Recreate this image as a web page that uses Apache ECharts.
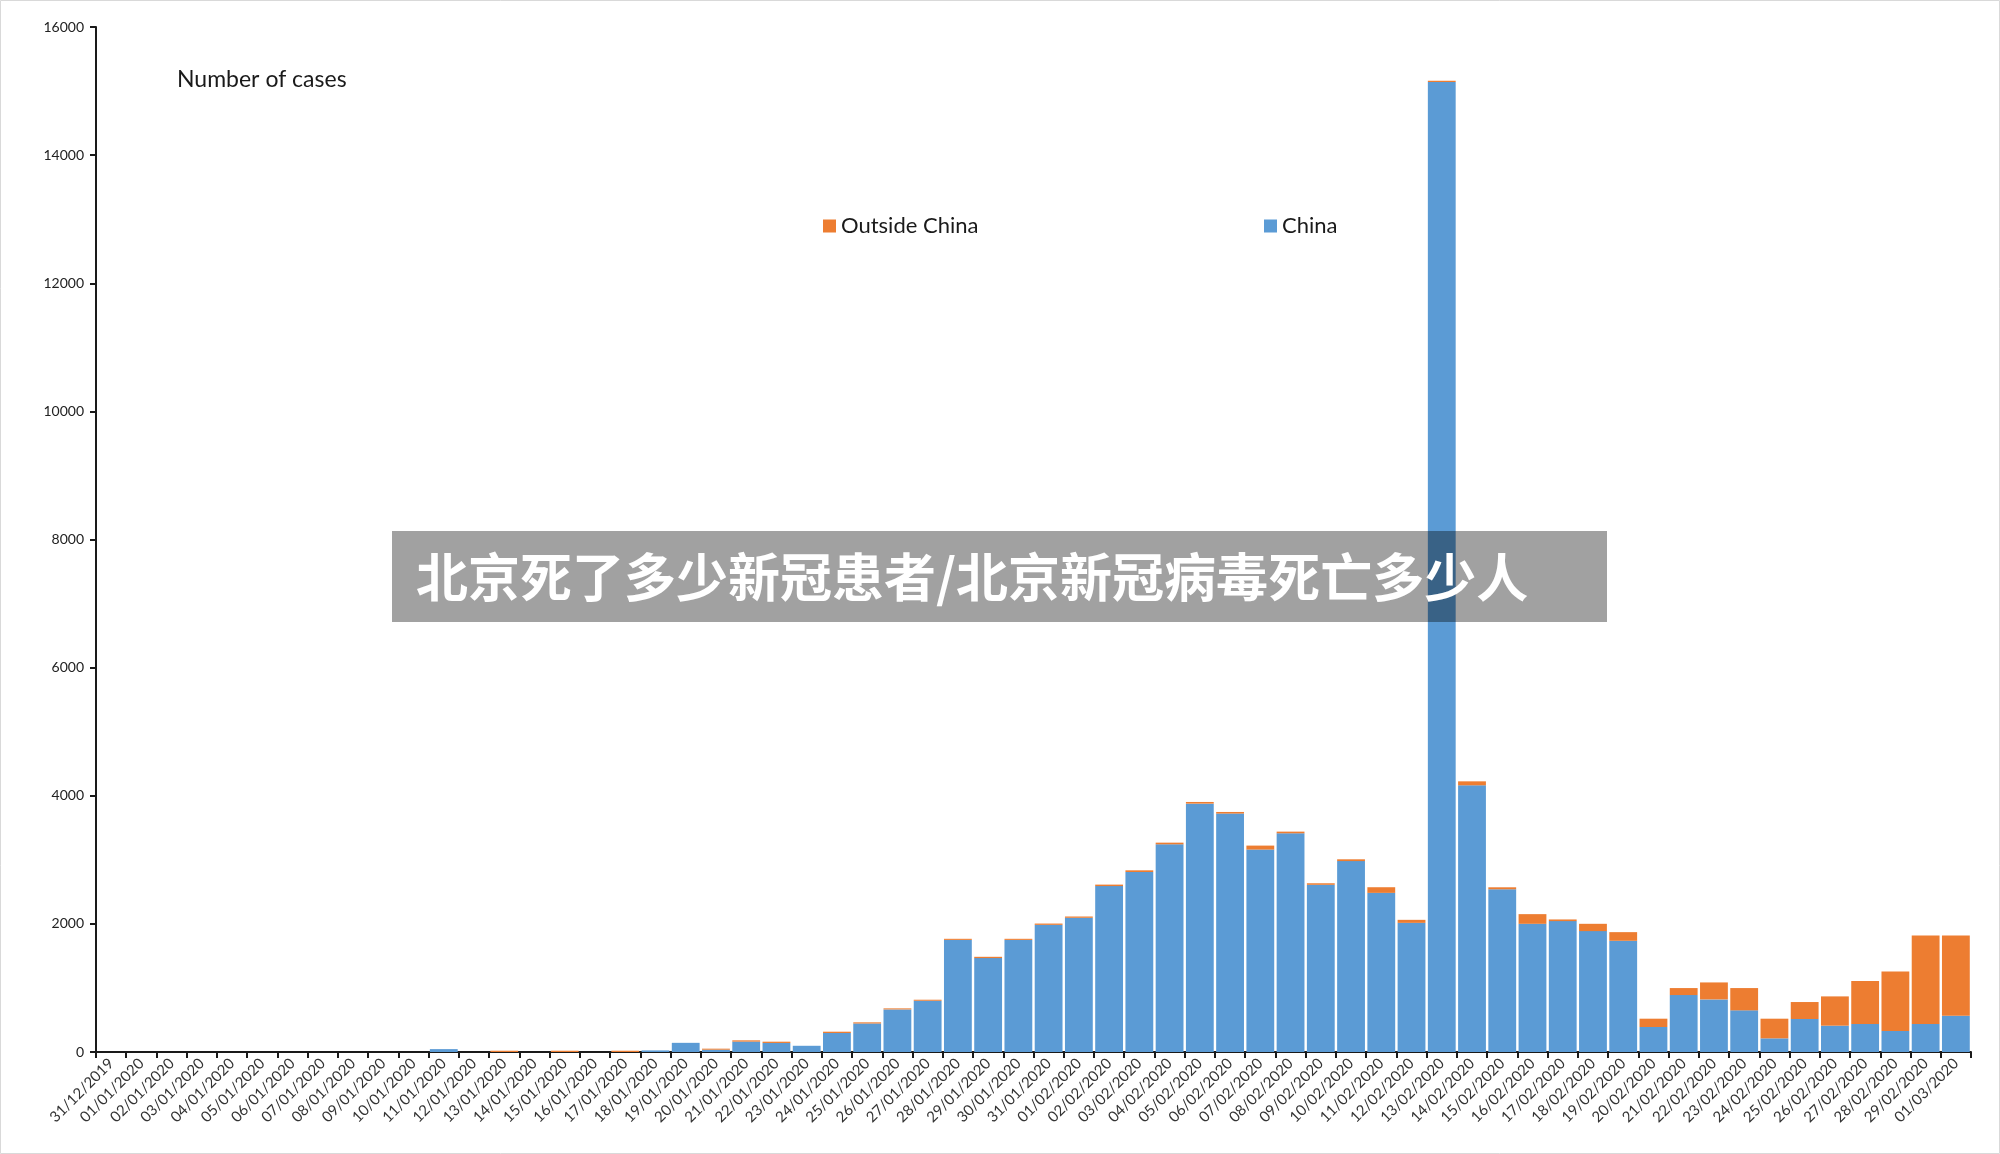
<!DOCTYPE html>
<html>
<head>
<meta charset="utf-8">
<title>Number of cases</title>
<script src="https://cdn.jsdelivr.net/npm/echarts@6/dist/echarts.min.js"></script>
<style>
    html, body { margin: 0; padding: 0; background: #fff; }
    #main { width: 2000px; height: 1154px; }
</style>
</head>
<body>
<div id="main"></div>
<script>
"use strict"

// 日期（类目轴）
var dates = [
    "31/12/2019", "01/01/2020", "02/01/2020", "03/01/2020", "04/01/2020", "05/01/2020",
    "06/01/2020", "07/01/2020", "08/01/2020", "09/01/2020", "10/01/2020", "11/01/2020",
    "12/01/2020", "13/01/2020", "14/01/2020", "15/01/2020", "16/01/2020", "17/01/2020",
    "18/01/2020", "19/01/2020", "20/01/2020", "21/01/2020", "22/01/2020", "23/01/2020",
    "24/01/2020", "25/01/2020", "26/01/2020", "27/01/2020", "28/01/2020", "29/01/2020",
    "30/01/2020", "31/01/2020", "01/02/2020", "02/02/2020", "03/02/2020", "04/02/2020",
    "05/02/2020", "06/02/2020", "07/02/2020", "08/02/2020", "09/02/2020", "10/02/2020",
    "11/02/2020", "12/02/2020", "13/02/2020", "14/02/2020", "15/02/2020", "16/02/2020",
    "17/02/2020", "18/02/2020", "19/02/2020", "20/02/2020", "21/02/2020", "22/02/2020",
    "23/02/2020", "24/02/2020", "25/02/2020", "26/02/2020", "27/02/2020", "28/02/2020",
    "29/02/2020", "01/03/2020"
];

// 中国每日新增
var chinaCases = [
    0, 0, 0, 0, 0, 0,
    0, 0, 0, 0, 0, 45,
    0, 0, 0, 0, 0, 0,
    25, 143, 36, 162, 141, 97,
    297, 445, 665, 800, 1750, 1466,
    1750, 1985, 2095, 2590, 2810, 3242,
    3877, 3722, 3160, 3414, 2610, 2980,
    2484, 2016, 15141, 4163, 2540, 2001,
    2043, 1887, 1736, 390, 889, 821,
    650, 213, 515, 411, 437, 328,
    437, 566
];

// 中国以外每日新增
var outsideCases = [
    0, 0, 0, 0, 0, 0,
    0, 0, 0, 0, 0, 0,
    0, 20, 0, 20, 0, 20,
    0, 0, 16, 20, 20, 0,
    20, 18, 16, 16, 17, 20,
    17, 20, 20, 23, 26, 26,
    26, 25, 62, 26, 24, 28,
    88, 47, 20, 62, 31, 151,
    26, 114, 135, 130, 109, 265,
    348, 307, 265, 457, 670, 930,
    1383, 1253
];

var yTicks = [0, 2000, 4000, 6000, 8000, 10000, 12000, 14000, 16000];

var overlayText = "北京死了多少新冠患者/北京新冠病毒死亡多少人";

var chart = echarts.init(document.getElementById("main"));

var option = {
    backgroundColor: "#fff",
    animation: false,
    textStyle: {
        fontFamily: "Lato, 'Noto Sans', sans-serif"
    },
    title: {
        text: "Number of cases",
        left: 172,
        top: 63,
        textStyle: {
            fontSize: 23,
            fontWeight: "normal",
            color: "#1a1a1a"
        }
    },
    legend: [{
        data: ["Outside China"],
        left: 818,
        top: 210,
        itemWidth: 13,
        itemHeight: 13,
        icon: "rect",
        textStyle: { fontSize: 22, color: "#1a1a1a" }
    }, {
        data: ["China"],
        left: 1259,
        top: 210,
        itemWidth: 13,
        itemHeight: 13,
        icon: "rect",
        textStyle: { fontSize: 22, color: "#1a1a1a" }
    }],
    grid: {
        left: 96,
        right: 29,
        top: 27,
        bottom: 102,
        containLabel: false
    },
    xAxis: {
        type: "category",
        data: dates,
        axisLine: { lineStyle: { color: "#1a1a1a", width: 2 } },
        axisTick: { show: true, interval: 0, length: 6, lineStyle: { color: "#1a1a1a", width: 2 } },
        axisLabel: {
            interval: 0,
            rotate: 45,
            fontSize: 15,
            margin: 9,
            color: "#333"
        }
    },
    yAxis: {
        type: "value",
        min: yTicks[0],
        max: yTicks[yTicks.length - 1],
        interval: yTicks[1] - yTicks[0],
        axisLine: { show: true, lineStyle: { color: "#1a1a1a", width: 2 } },
        axisTick: { show: true, length: 6, lineStyle: { color: "#1a1a1a", width: 2 } },
        splitLine: { show: false },
        axisLabel: {
            fontSize: 14,
            color: "#222",
            margin: 12,
            formatter: function (v) { return String(v); }
        }
    },
    series: [{
        name: "China",
        type: "bar",
        stack: "cases",
        data: chinaCases,
        barCategoryGap: "8%",
        itemStyle: { color: "#5b9bd5" }
    }, {
        name: "Outside China",
        type: "bar",
        stack: "cases",
        data: outsideCases,
        barCategoryGap: "8%",
        itemStyle: { color: "#ed7d31" }
    }],
    graphic: [{
        type: "rect",
        shape: { x: 0.5, y: 0.5, width: 1999, height: 1153 },
        style: { fill: null, stroke: "#d9d9d9", lineWidth: 1 },
        z: 1
    }, {
        type: "rect",
        shape: { x: 392, y: 531, width: 1215, height: 91 },
        style: { fill: "rgba(0,0,0,0.37)" },
        z: 100
    }, {
        type: "text",
        x: 416,
        y: 577,
        style: {
            text: overlayText,
            fill: "#fff",
            font: "bold 52px 'Noto Sans CJK SC'",
            verticalAlign: "middle",
            align: "left"
        },
        z: 101
    }]
};

chart.setOption(option);
</script>
</body>
</html>
